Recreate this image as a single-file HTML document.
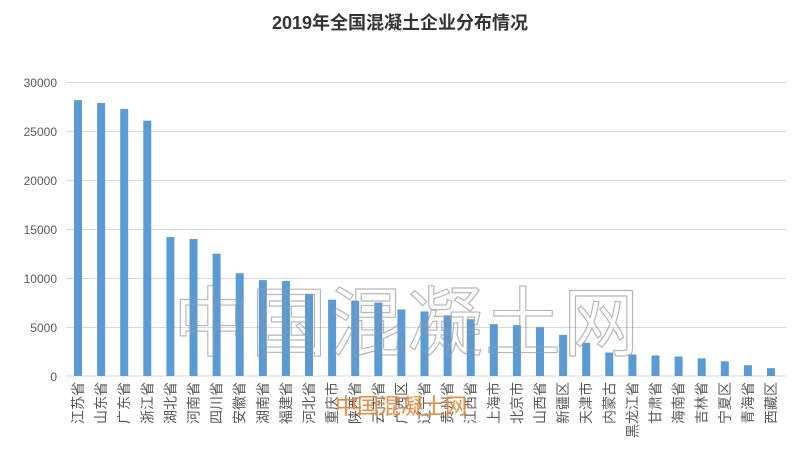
<!DOCTYPE html>
<html><head><meta charset="utf-8"><style>
html,body{margin:0;padding:0;background:#fff;}
body{width:800px;height:449px;overflow:hidden;position:relative;font-family:"Liberation Sans","Noto Sans CJK SC",sans-serif;}
</style></head><body>
<svg width="800" height="449" xmlns="http://www.w3.org/2000/svg" style="position:absolute;left:0;top:0">
<text x="400" y="29" text-anchor="middle" font-size="18" font-weight="bold" fill="#333" font-family="Liberation Sans,Noto Sans CJK SC,sans-serif">2019年全国混凝土企业分布情况</text>
<g stroke="#d9d9d9" stroke-width="1">
<line x1="66" x2="786" y1="82.5" y2="82.5"/><line x1="66" x2="786" y1="131.5" y2="131.5"/><line x1="66" x2="786" y1="180.5" y2="180.5"/><line x1="66" x2="786" y1="229.5" y2="229.5"/><line x1="66" x2="786" y1="278.5" y2="278.5"/><line x1="66" x2="786" y1="327.5" y2="327.5"/><line x1="66" x2="786" y1="376" y2="376"/>
</g>
<g font-size="12" fill="#595959" text-anchor="end" font-family="Liberation Sans,sans-serif">
<text x="57" y="87">30000</text><text x="57" y="136">25000</text><text x="57" y="185">20000</text><text x="57" y="234">15000</text><text x="57" y="283">10000</text><text x="57" y="332">5000</text><text x="57" y="381">0</text>
</g>
<g id="bars" fill="#5b9bd5"></g>
<g id="labels" font-size="14" fill="#595959" font-family="Noto Sans CJK SC,sans-serif" text-anchor="end"></g>
<text x="407" y="350" text-anchor="middle" font-size="76" fill="none" stroke="#999" stroke-width="1.2" opacity="0.7" font-family="Noto Sans CJK SC,sans-serif" letter-spacing="2">中国混凝土网</text>
<text x="401" y="414" text-anchor="middle" font-size="22" fill="#ec8a3c" font-family="Noto Sans CJK SC,sans-serif">中国混凝土网</text>
</svg>
<script>
var names="江苏省 山东省 广东省 浙江省 湖北省 河南省 四川省 安徽省 湖南省 福建省 河北省 重庆市 陕西省 云南省 广西区 辽宁省 贵州省 江西省 上海市 北京市 山西省 新疆区 天津市 内蒙古 黑龙江省 甘肃省 海南省 吉林省 宁夏区 青海省 西藏区".split(" ");
var vals=[28200,27900,27300,26100,14200,14000,12500,10500,9800,9700,8400,7800,7700,7500,6800,6600,6200,5800,5300,5200,5000,4200,3400,2400,2200,2100,2000,1800,1500,1100,800];
var ns="http://www.w3.org/2000/svg",b=document.getElementById("bars"),l=document.getElementById("labels");
for(var i=0;i<31;i++){var cx=78+i*23.1,h=vals[i]/30000*293.5;
var r=document.createElementNS(ns,"rect");r.setAttribute("x",cx-4);r.setAttribute("width",8);r.setAttribute("y",376-h);r.setAttribute("height",h);b.appendChild(r);
var t=document.createElementNS(ns,"text");t.setAttribute("transform","translate("+(cx+5)+",382) rotate(-90)");t.textContent=names[i];l.appendChild(t);}
</script>
</body></html>
